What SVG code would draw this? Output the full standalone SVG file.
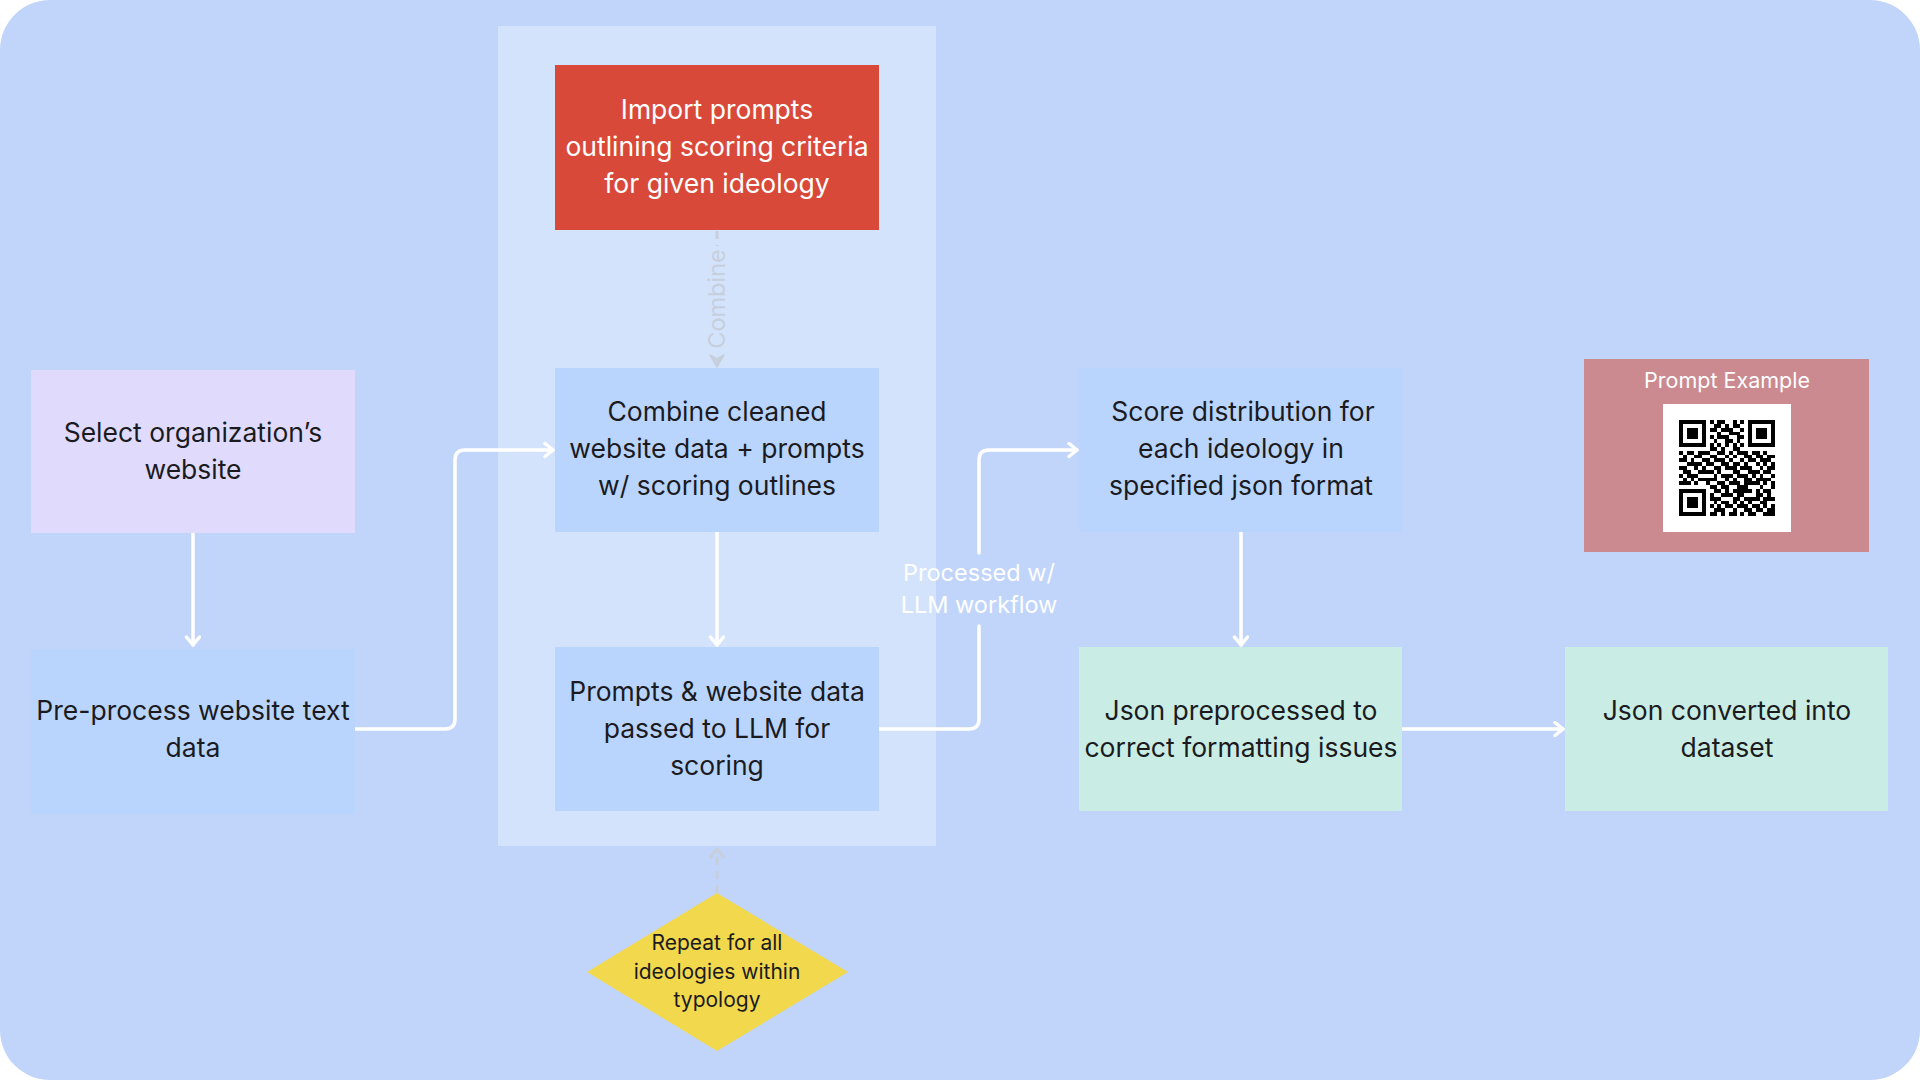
<svg xmlns="http://www.w3.org/2000/svg" width="1920" height="1080" viewBox="0 0 1920 1080">
<defs>
<style>
.t{font-family:Inter,"Noto Sans","Liberation Sans",sans-serif;font-size:26.5px;fill:#1b1b1f;text-anchor:middle}
.w{fill:#ffffff}
.s{font-size:21px}
.m{font-size:23.5px}
.p{font-size:21.5px}
.conn{fill:none;stroke:#ffffff;stroke-width:3.5;stroke-linecap:round;stroke-linejoin:round}
.dash{fill:none;stroke:#c7cfdd;stroke-width:3;stroke-dasharray:8 6}
</style>
<marker id="arr" markerUnits="userSpaceOnUse" markerWidth="16" markerHeight="18" refX="11" refY="8" orient="auto">
<path d="M3,1.5 L11,8 L3,14.5" fill="none" stroke="#ffffff" stroke-width="3.5" stroke-linecap="round" stroke-linejoin="round"/>
</marker>
<marker id="arrg" markerUnits="userSpaceOnUse" markerWidth="16" markerHeight="18" refX="11" refY="8" orient="auto">
<path d="M3,1.5 L11,8 L3,14.5" fill="none" stroke="#c7cfdd" stroke-width="3.5" stroke-linecap="round" stroke-linejoin="round"/>
</marker>
</defs>
<rect x="0" y="0" width="1920" height="1080" rx="50" fill="#c1d5fb"/>
<rect x="498" y="26" width="438" height="820" fill="#d3e3fc"/>

<g id="connectors">
<path class="conn" d="M193 533 V645" marker-end="url(#arr)"/>
<path class="conn" d="M355 729 H445 Q455 729 455 719 V460 Q455 450 465 450 H553" marker-end="url(#arr)"/>
<path class="conn" d="M717 531 V645" marker-end="url(#arr)"/>
<path class="conn" d="M879 729 H969 Q979 729 979 719 V626"/>
<path class="conn" d="M979 553 V460 Q979 450 989 450 H1077" marker-end="url(#arr)"/>
<text class="t w m" x="979" y="581">Processed w/</text>
<text class="t w m" x="979" y="613">LLM workflow</text>
<path class="conn" d="M1241 531 V645" marker-end="url(#arr)"/>
<path class="conn" d="M1402 729 H1563" marker-end="url(#arr)"/>
<path class="dash" d="M717 231 V246"/>
<text class="t m" x="0" y="0" transform="translate(725 299) rotate(-90)" style="fill:#c7cfdd">Combine</text>
<path d="M710 355 L717 367 L724 355 L717 359 Z" fill="#c7cfdd" stroke="#c7cfdd" stroke-width="1.5" stroke-linejoin="round"/>
<path class="dash" d="M717 893 V849" marker-end="url(#arrg)"/>
</g>

<g id="node-import">
<rect x="555" y="65" width="324" height="165" fill="#d9493a"/>
<text class="t w" x="717" y="119">Import prompts</text>
<text class="t w" x="717" y="156">outlining scoring criteria</text>
<text class="t w" x="717" y="193">for given ideology</text>
</g>

<g id="node-combine">
<rect x="555" y="368" width="324" height="164" fill="#b9d5fe"/>
<text class="t" x="717" y="421">Combine cleaned</text>
<text class="t" x="717" y="458">website data + prompts</text>
<text class="t" x="717" y="495">w/ scoring outlines</text>
</g>

<g id="node-prompts">
<rect x="555" y="647" width="324" height="164" fill="#b9d5fe"/>
<text class="t" x="717" y="701">Prompts &amp; website data</text>
<text class="t" x="717" y="738">passed to LLM for</text>
<text class="t" x="717" y="775">scoring</text>
</g>

<g id="node-select">
<rect x="31" y="370" width="324" height="163" fill="#e0dbfd"/>
<text class="t" x="193" y="442">Select organization’s</text>
<text class="t" x="193" y="479">website</text>
</g>

<g id="node-preprocess">
<rect x="31" y="649" width="324" height="165" fill="#b9d5fe"/>
<text class="t" x="193" y="720">Pre-process website text</text>
<text class="t" x="193" y="757">data</text>
</g>

<g id="node-score">
<rect x="1079" y="368" width="323" height="164" fill="#b9d5fe"/>
<text class="t" x="1243" y="421">Score distribution for</text>
<text class="t" x="1241" y="458">each ideology in</text>
<text class="t" x="1241" y="495">specified json format</text>
</g>

<g id="node-jsonpre">
<rect x="1079" y="647" width="323" height="164" fill="#c9ede4"/>
<text class="t" x="1241" y="720">Json preprocessed to</text>
<text class="t" x="1241" y="757">correct formatting issues</text>
</g>

<g id="node-jsonconv">
<rect x="1565" y="647" width="323" height="164" fill="#c9ede4"/>
<text class="t" x="1727" y="720">Json converted into</text>
<text class="t" x="1727" y="757">dataset</text>
</g>

<g id="node-example">
<rect x="1584" y="359" width="285" height="193" fill="#cb8990"/>
<text class="t w p" x="1727" y="388">Prompt Example</text>
<rect x="1663" y="404" width="128" height="128" fill="#ffffff"/>
<path transform="translate(1679 420) scale(3.84)" fill="#000000" shape-rendering="crispEdges" d="M0 0h7v1h-7zM8 0h1v1h-1zM10 0h2v1h-2zM14 0h1v1h-1zM16 0h1v1h-1zM18 0h7v1h-7z
M0 1h1v1h-1zM6 1h1v1h-1zM9 1h2v1h-2zM12 1h1v1h-1zM14 1h2v1h-2zM18 1h1v1h-1zM24 1h1v1h-1z
M0 2h1v1h-1zM2 2h3v1h-3zM6 2h1v1h-1zM8 2h2v1h-2zM11 2h3v1h-3zM16 2h1v1h-1zM18 2h1v1h-1zM20 2h3v1h-3zM24 2h1v1h-1z
M0 3h1v1h-1zM2 3h3v1h-3zM6 3h1v1h-1zM10 3h1v1h-1zM13 3h3v1h-3zM18 3h1v1h-1zM20 3h3v1h-3zM24 3h1v1h-1z
M0 4h1v1h-1zM2 4h3v1h-3zM6 4h1v1h-1zM8 4h1v1h-1zM10 4h3v1h-3zM15 4h2v1h-2zM18 4h1v1h-1zM20 4h3v1h-3zM24 4h1v1h-1z
M0 5h1v1h-1zM6 5h1v1h-1zM9 5h1v1h-1zM12 5h2v1h-2zM15 5h1v1h-1zM18 5h1v1h-1zM24 5h1v1h-1z
M0 6h7v1h-7zM8 6h1v1h-1zM10 6h1v1h-1zM12 6h1v1h-1zM14 6h1v1h-1zM16 6h1v1h-1zM18 6h7v1h-7z
M8 7h2v1h-2zM11 7h1v1h-1zM14 7h2v1h-2z
M0 8h1v1h-1zM2 8h2v1h-2zM5 8h3v1h-3zM10 8h2v1h-2zM13 8h1v1h-1zM15 8h3v1h-3zM19 8h2v1h-2zM22 8h1v1h-1z
M1 9h1v1h-1zM4 9h2v1h-2zM8 9h2v1h-2zM12 9h1v1h-1zM14 9h1v1h-1zM17 9h2v1h-2zM20 9h2v1h-2zM23 9h2v1h-2z
M0 10h2v1h-2zM3 10h1v1h-1zM6 10h2v1h-2zM9 10h3v1h-3zM13 10h1v1h-1zM16 10h1v1h-1zM18 10h2v1h-2zM21 10h3v1h-3z
M2 11h4v1h-4zM7 11h2v1h-2zM11 11h2v1h-2zM14 11h2v1h-2zM17 11h1v1h-1zM20 11h1v1h-1zM22 11h1v1h-1zM24 11h1v1h-1z
M0 12h2v1h-2zM4 12h1v1h-1zM6 12h1v1h-1zM9 12h2v1h-2zM12 12h3v1h-3zM16 12h3v1h-3zM21 12h1v1h-1zM23 12h2v1h-2z
M1 13h2v1h-2zM5 13h4v1h-4zM10 13h1v1h-1zM14 13h2v1h-2zM18 13h3v1h-3zM22 13h2v1h-2z
M0 14h1v1h-1zM2 14h3v1h-3zM9 14h1v1h-1zM11 14h3v1h-3zM15 14h3v1h-3zM19 14h1v1h-1zM21 14h1v1h-1zM24 14h1v1h-1z
M1 15h1v1h-1zM3 15h1v1h-1zM5 15h5v1h-5zM12 15h1v1h-1zM14 15h1v1h-1zM17 15h2v1h-2zM20 15h4v1h-4z
M0 16h3v1h-3zM4 16h1v1h-1zM7 16h1v1h-1zM10 16h2v1h-2zM13 16h3v1h-3zM17 16h4v1h-4zM22 16h1v1h-1zM24 16h1v1h-1z
M8 17h2v1h-2zM11 17h2v1h-2zM15 17h3v1h-3zM21 17h1v1h-1zM24 17h1v1h-1z
M0 18h7v1h-7zM9 18h2v1h-2zM12 18h1v1h-1zM14 18h5v1h-5zM20 18h1v1h-1zM22 18h2v1h-2z
M0 19h1v1h-1zM6 19h1v1h-1zM8 19h1v1h-1zM11 19h3v1h-3zM15 19h2v1h-2zM20 19h2v1h-2zM23 19h1v1h-1z
M0 20h1v1h-1zM2 20h3v1h-3zM6 20h1v1h-1zM8 20h3v1h-3zM14 20h2v1h-2zM17 20h4v1h-4zM22 20h3v1h-3z
M0 21h1v1h-1zM2 21h3v1h-3zM6 21h1v1h-1zM9 21h1v1h-1zM11 21h2v1h-2zM14 21h1v1h-1zM16 21h1v1h-1zM18 21h1v1h-1zM21 21h2v1h-2z
M0 22h1v1h-1zM2 22h3v1h-3zM6 22h1v1h-1zM8 22h1v1h-1zM10 22h1v1h-1zM12 22h2v1h-2zM15 22h3v1h-3zM19 22h2v1h-2zM22 22h1v1h-1zM24 22h1v1h-1z
M0 23h1v1h-1zM6 23h1v1h-1zM9 23h3v1h-3zM14 23h1v1h-1zM17 23h2v1h-2zM20 23h2v1h-2zM23 23h2v1h-2z
M0 24h7v1h-7zM8 24h2v1h-2zM11 24h1v1h-1zM13 24h2v1h-2zM16 24h1v1h-1zM18 24h2v1h-2zM22 24h3v1h-3z"/>
</g>

<g id="node-repeat">
<polygon points="717,893 848,972 717,1051 587,972" fill="#f2d84d"/>
<text class="t s" x="717" y="950">Repeat for all</text>
<text class="t s" x="717" y="979">ideologies within</text>
<text class="t s" x="717" y="1007">typology</text>
</g>
</svg>
